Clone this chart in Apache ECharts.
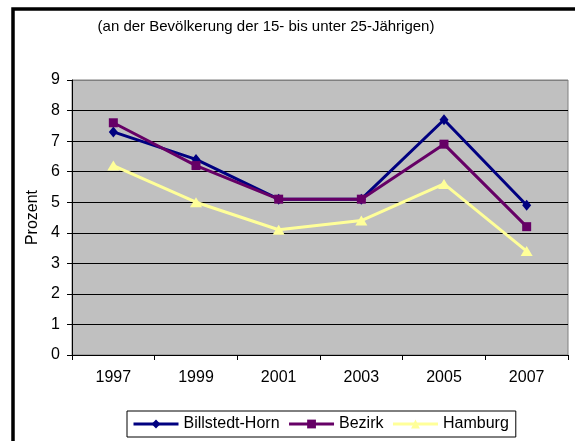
<!DOCTYPE html>
<html>
<head>
<meta charset="utf-8">
<script src="https://cdn.jsdelivr.net/npm/echarts@6/dist/echarts.min.js"></script>
<style>
html,body{margin:0;padding:0;background:#fff;}
#chart{width:575px;height:441px;}
</style>
</head>
<body>
<div id="chart"></div>
<script>
const subtitle = "(an der Bevölkerung der 15- bis unter 25-Jährigen)";
const yAxisName = "Prozent";
const years = ["1997", "1999", "2001", "2003", "2005", "2007"];
const billstedtHorn = [7.3, 6.4, 5.1, 5.1, 7.7, 4.9];
const bezirk = [7.6, 6.2, 5.1, 5.1, 6.9, 4.2];
const hamburg = [6.2, 5.0, 4.1, 4.4, 5.6, 3.4];
const seriesNames = ["Billstedt-Horn", "Bezirk", "Hamburg"];

const FONT = "'Liberation Sans', Arial, sans-serif";
const chart = echarts.init(document.getElementById('chart'), null, {renderer: 'canvas'});

const gridColors = ['#000','#000','#000','#000','#000','#000','#000','#000','#000','#808080'];

chart.setOption({
  animation: false,
  backgroundColor: '#ffffff',
  textStyle: {fontFamily: FONT},
  graphic: [
    {
      type: 'rect',
      shape: {x: 13, y: 9, width: 1200, height: 1200},
      style: {fill: 'none', stroke: '#000', lineWidth: 3.5},
      silent: true
    },
    {
      type: 'text',
      x: 266, y: 27,
      style: {
        text: subtitle, fill: '#000', font: '15px ' + FONT,
        textAlign: 'center', textVerticalAlign: 'middle'
      }
    }
  ],
  grid: {
    left: 72, right: 7, top: 80, bottom: 86,
    show: true, backgroundColor: '#C0C0C0', borderColor: '#808080', borderWidth: 1
  },
  legend: {
    left: 127, top: 411,
    orient: 'horizontal',
    padding: [5, 7, 5, 5],
    itemGap: 8,
    itemWidth: 45,
    itemHeight: 11,
    borderColor: '#000', borderWidth: 1,
    backgroundColor: '#fff',
    lineStyle: {width: 3},
    textStyle: {fontSize: 16, color: '#000', fontFamily: FONT},
    data: seriesNames
  },
  xAxis: {
    type: 'category',
    data: years,
    boundaryGap: true,
    axisLine: {lineStyle: {color: '#000', width: 1}},
    axisTick: {show: true, length: 5, inside: false, lineStyle: {color: '#000'}},
    axisLabel: {fontSize: 16, color: '#000', margin: 15, fontFamily: FONT},
    splitLine: {show: false}
  },
  yAxis: {
    type: 'value',
    min: 0, max: 9, interval: 1,
    name: yAxisName,
    nameLocation: 'middle',
    nameRotate: 90,
    nameGap: 31,
    nameTextStyle: {fontSize: 16, color: '#000', fontFamily: FONT},
    axisLine: {show: true, lineStyle: {color: '#000', width: 1}},
    axisTick: {show: true, length: 5, inside: false, lineStyle: {color: '#000'}},
    axisLabel: {fontSize: 16, color: '#000', margin: 12, fontFamily: FONT},
    splitLine: {show: true, lineStyle: {color: gridColors, width: 1}}
  },
  series: [
    {
      name: seriesNames[0], type: 'line', data: billstedtHorn,
      symbol: 'diamond', symbolSize: [9, 11],
      lineStyle: {color: '#000080', width: 3},
      itemStyle: {color: '#000080'}
    },
    {
      name: seriesNames[1], type: 'line', data: bezirk,
      symbol: 'rect', symbolSize: 9,
      lineStyle: {color: '#660066', width: 3},
      itemStyle: {color: '#660066'}
    },
    {
      name: seriesNames[2], type: 'line', data: hamburg,
      symbol: 'triangle', symbolSize: [12, 10],
      lineStyle: {color: '#FFFF99', width: 3},
      itemStyle: {color: '#FFFF99'}
    }
  ]
});
</script>
</body>
</html>
